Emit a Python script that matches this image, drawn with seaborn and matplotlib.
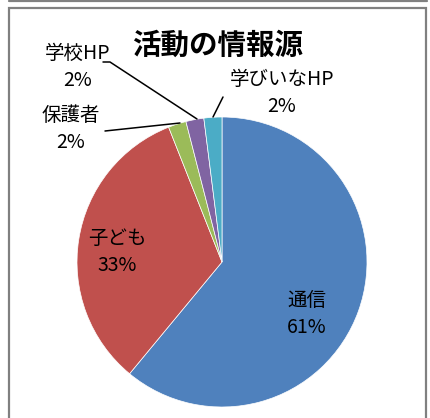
import matplotlib
matplotlib.use('Agg')
import matplotlib.pyplot as plt
import seaborn as sns
from matplotlib.patches import Rectangle
from matplotlib.lines import Line2D

labels = ['通信', '子ども', '保護者', '学校HP', '学びいなHP']
shares = [61, 33, 2, 2, 2]
pct_text = ['61%', '33%', '2%', '2%', '2%']
colors = ['#4F81BD', '#C0504D', '#9BBB59', '#8064A2', '#4BACC6']

sns.set_theme(style='white')
plt.rcParams['font.family'] = ['Noto Sans CJK JP', 'DejaVu Sans']

W, H = 430, 418
fig = plt.figure(figsize=(W / 100, H / 100), dpi=100)
ax = fig.add_axes([0, 0, 1, 1])

# pixel -> data helper (pie centre at 222,262 px, radius 145 px)
cx, cy, r = 222, 262, 145
def px(x, y):
    return (x - cx) / r, (cy - y) / r

ax.pie(shares, colors=colors, startangle=90, counterclock=False,
       wedgeprops=dict(linewidth=0.5, edgecolor='white'))
ax.set_xlim(px(0, 0)[0], px(W, 0)[0])
ax.set_ylim(px(0, H)[1], px(0, 0)[1])
ax.set_aspect('auto')
ax.axis('off')

# label positions (px)
pos = {'通信': (307, 314), '子ども': (117, 252), '保護者': (71, 129),
       '学校HP': (78, 67), '学びいなHP': (282, 93)}
for lab, p in zip(labels, pct_text):
    x, y = px(*pos[lab])
    ax.text(x, y, f'{lab}\n{p}', ha='center', va='center', fontsize=14,
            linespacing=1.35, color='black')

# leader lines
leaders = [[(103, 62), (110, 62), (197, 119)],
           [(105, 131), (180, 123)],
           [(223, 97), (213, 117)]]
for pts in leaders:
    xs, ys = zip(*[px(a, b) for a, b in pts])
    ax.plot(xs, ys, color='black', lw=1.1)

tx, ty = px(218, 46)
ax.text(tx, ty, '活動の情報源', ha='center', va='center', fontsize=20.5,
        fontweight='bold', color='black')

# chart frame
fig.add_artist(Rectangle((9 / W, -0.05), 417 / W, 1.05 - 8 / H,
                         transform=fig.transFigure, fill=False,
                         edgecolor='#808080', lw=1.6))
fig.add_artist(Line2D([9 / W, 427 / W], [1 - 1 / H, 1 - 1 / H],
                      transform=fig.transFigure, color='#808080', lw=1.6))

fig.savefig('out.png', dpi=100)
